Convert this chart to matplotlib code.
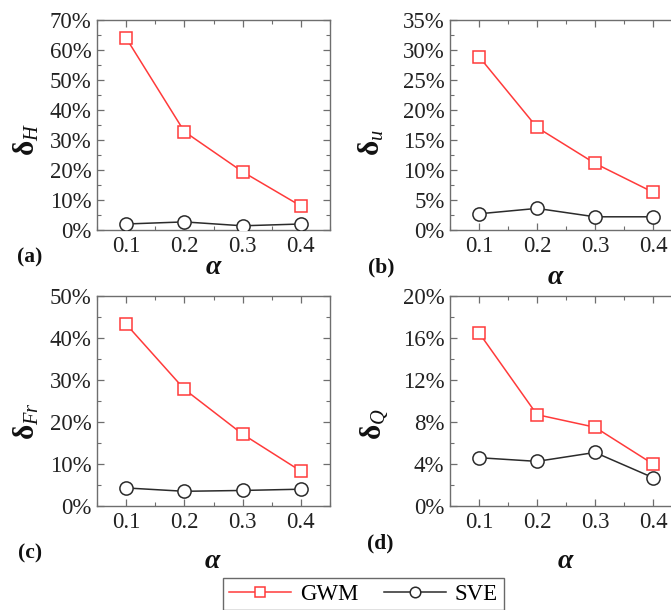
import matplotlib
matplotlib.use('Agg')
import matplotlib.pyplot as plt
from matplotlib.ticker import MultipleLocator, FuncFormatter

plt.rcParams['font.family'] = ['Liberation Serif', 'DejaVu Serif']
plt.rcParams['mathtext.fontset'] = 'custom'
plt.rcParams['mathtext.rm'] = 'Liberation Serif'
plt.rcParams['mathtext.it'] = 'Liberation Serif:italic'
plt.rcParams['mathtext.bf'] = 'Liberation Serif:bold'

# data (percent)
alpha = [0.1, 0.2, 0.3, 0.4]
gwm_H = [64.0, 32.8, 19.4, 8.0]
sve_H = [2.0, 2.7, 1.4, 2.0]
gwm_u = [28.9, 17.1, 11.1, 6.3]
sve_u = [2.7, 3.6, 2.2, 2.2]
gwm_Fr = [43.3, 27.8, 17.1, 8.3]
sve_Fr = [4.3, 3.5, 3.7, 4.0]
gwm_Q = [16.5, 8.7, 7.5, 4.0]
sve_Q = [4.6, 4.25, 5.1, 2.7]

ylabels = ['δ$_{H}$', 'δ$_{u}$', 'δ$_{Fr}$', 'δ$_{Q}$']
panel_tags = ['(a)', '(b)', '(c)', '(d)']
ymax = [70, 35, 50, 20]
ymaj = [10, 5, 10, 4]

W, H = 671, 610
fig = plt.figure(figsize=(W / 100, H / 100), dpi=100)

# pixel boxes: left, top, right, bottom
boxes = [(97, 20, 330, 230), (450, 20, 682, 230),
         (97, 296, 330, 506), (450, 296, 682, 506)]
ylab_xy = [(26, 140), (371, 143), (26, 421), (374, 424)]
tag_xy = [(30, 257), (381, 267), (30, 553), (380, 543)]
alpha_xy = [(213, 268), (555, 278), (212, 562), (565, 562)]

red = '#ff3a3a'
dark = '#2b2b2b'
frame = '#6e6e6e'

series = [(gwm_H, sve_H), (gwm_u, sve_u), (gwm_Fr, sve_Fr), (gwm_Q, sve_Q)]

for i, (g, s) in enumerate(series):
    l, t, r, b = boxes[i]
    ax = fig.add_axes([l / W, 1 - b / H, (r - l) / W, (b - t) / H])
    lg, = ax.plot(alpha, g, color=red, lw=1.1, marker='s', ms=9,
                  mfc='white', mec=red, mew=1.1, label='GWM', zorder=3)
    ls, = ax.plot(alpha, s, color=dark, lw=1.1, marker='o', ms=9.5,
                  mfc='white', mec=dark, mew=1.1, label='SVE', zorder=3)
    ax.set_xlim(0.05, 0.45)
    ax.set_ylim(0, ymax[i])
    ax.xaxis.set_major_locator(MultipleLocator(0.1))
    ax.xaxis.set_minor_locator(MultipleLocator(0.05))
    ax.yaxis.set_major_locator(MultipleLocator(ymaj[i]))
    ax.yaxis.set_minor_locator(MultipleLocator(ymaj[i] / 2))
    ax.xaxis.set_major_formatter(FuncFormatter(lambda v, p: '%.1f' % v))
    ax.yaxis.set_major_formatter(FuncFormatter(lambda v, p: '%d%%' % round(v)))
    ax.tick_params(which='both', direction='in', top=True, right=True,
                   color=frame, labelsize=16.5, labelcolor='#222222', pad=4)
    ax.tick_params(which='major', length=5, width=0.9)
    ax.tick_params(which='minor', length=3, width=0.8)
    for sp in ax.spines.values():
        sp.set_color(frame)
        sp.set_linewidth(1.0)

    fig.text(ylab_xy[i][0] / W, 1 - ylab_xy[i][1] / H, ylabels[i], rotation=90,
             ha='center', va='center', fontsize=21, fontweight='bold', color='#111111')
    fig.text(tag_xy[i][0] / W, 1 - tag_xy[i][1] / H, panel_tags[i],
             ha='center', va='center', fontsize=15.5, fontweight='bold', color='#111111')
    fig.text(alpha_xy[i][0] / W, 1 - alpha_xy[i][1] / H, 'α',
             ha='center', va='center', fontsize=20, fontweight='bold',
             fontstyle='italic', color='#111111')

leg = fig.legend([lg, ls], ['GWM', 'SVE'], loc='center',
                 bbox_to_anchor=(363.5 / W, 1 - 594 / H), ncol=2, fontsize=16.5,
                 frameon=True, fancybox=False, edgecolor='#444444',
                 handlelength=2.7, columnspacing=1.1, handletextpad=0.4,
                 borderpad=0.25, markerscale=0.8)
leg.get_frame().set_linewidth(1.0)

fig.savefig('out.png', dpi=100)
